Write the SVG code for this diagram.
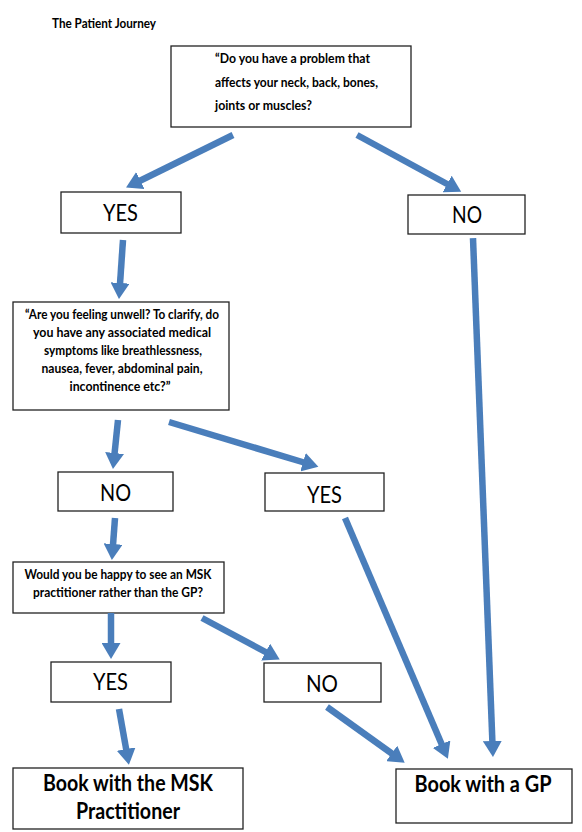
<svg xmlns="http://www.w3.org/2000/svg" width="582" height="832" viewBox="0 0 582 832">
<style>
.box{fill:#fff;stroke:#222;stroke-width:1.3}
.t{font-family:Lato,"Liberation Sans",sans-serif;fill:#000}
.b{font-weight:bold;font-size:12.5px}
.lbl{font-size:23px;font-weight:normal}
.big{font-weight:bold;font-size:22px}
.c{text-anchor:middle}
.arr{stroke:#4a7ebb;stroke-width:6.5;fill:none;marker-end:url(#ah)}
</style>
<defs>
<marker id="ah" markerUnits="userSpaceOnUse" markerWidth="17" markerHeight="19" refX="1" refY="9.5" orient="auto">
<path d="M0,0 L16,9.5 L0,19 z" fill="#4a7ebb"/>
</marker>
</defs>
<rect width="582" height="832" fill="#fff"/>
<text class="t b" x="52" y="28" textLength="104" lengthAdjust="spacingAndGlyphs">The Patient Journey</text>

<g id="q1">
<rect class="box" x="171" y="46" width="240" height="81"/>
<text class="t b" x="215" y="63" textLength="155" lengthAdjust="spacingAndGlyphs">“Do you have a problem that</text>
<text class="t b" x="215" y="87" textLength="163" lengthAdjust="spacingAndGlyphs">affects your neck, back, bones,</text>
<text class="t b" x="215" y="110" textLength="97" lengthAdjust="spacingAndGlyphs">joints or muscles?</text>
</g>
<g id="yes1">
<rect class="box" x="61" y="192" width="120" height="41"/>
<text class="t lbl" x="103" y="221" textLength="35" lengthAdjust="spacingAndGlyphs">YES</text>
</g>
<g id="no1">
<rect class="box" x="408" y="195" width="117" height="39"/>
<text class="t lbl" x="452" y="223" textLength="30" lengthAdjust="spacingAndGlyphs">NO</text>
</g>
<g id="q2">
<rect class="box" x="13" y="302" width="216" height="108"/>
<text class="t b c" x="122" y="319" textLength="194" lengthAdjust="spacingAndGlyphs">“Are you feeling unwell? To clarify, do</text>
<text class="t b c" x="122" y="337" textLength="178" lengthAdjust="spacingAndGlyphs">you have any associated medical</text>
<text class="t b c" x="123" y="355" textLength="158" lengthAdjust="spacingAndGlyphs">symptoms like breathlessness,</text>
<text class="t b c" x="122" y="373" textLength="161" lengthAdjust="spacingAndGlyphs">nausea, fever, abdominal pain,</text>
<text class="t b c" x="120" y="391" textLength="101" lengthAdjust="spacingAndGlyphs">incontinence etc?”</text>
</g>
<g id="no2">
<rect class="box" x="58" y="472" width="115" height="39"/>
<text class="t lbl" x="100" y="501" textLength="31" lengthAdjust="spacingAndGlyphs">NO</text>
</g>
<g id="yes2">
<rect class="box" x="265" y="473" width="119" height="38"/>
<text class="t lbl" x="307" y="503" textLength="35" lengthAdjust="spacingAndGlyphs">YES</text>
</g>
<g id="q3">
<rect class="box" x="13" y="562" width="211" height="51"/>
<text class="t b c" x="118" y="579" textLength="187" lengthAdjust="spacingAndGlyphs">Would you be happy to see an MSK</text>
<text class="t b c" x="118" y="597" textLength="170" lengthAdjust="spacingAndGlyphs">practitioner rather than the GP?</text>
</g>
<g id="yes3">
<rect class="box" x="51" y="662" width="120" height="40"/>
<text class="t lbl" x="93" y="690" textLength="35" lengthAdjust="spacingAndGlyphs">YES</text>
</g>
<g id="no3">
<rect class="box" x="264" y="663" width="117" height="39"/>
<text class="t lbl" x="306" y="692" textLength="32" lengthAdjust="spacingAndGlyphs">NO</text>
</g>
<g id="msk">
<rect class="box" x="13" y="768" width="230" height="61"/>
<text class="t big c" x="128" y="791" textLength="170" lengthAdjust="spacingAndGlyphs">Book with the MSK</text>
<text class="t big c" x="128" y="819" textLength="104" lengthAdjust="spacingAndGlyphs">Practitioner</text>
</g>
<g id="gp">
<rect class="box" x="396" y="769" width="176" height="54"/>
<text class="t big c" x="483" y="792" textLength="137" lengthAdjust="spacingAndGlyphs">Book with a GP</text>
</g>

<g id="connectors">
<line class="arr" x1="233" y1="135" x2="139.5" y2="181"/>
<line class="arr" x1="357" y1="135" x2="448" y2="184.5"/>
<line class="arr" x1="123" y1="240" x2="120" y2="284"/>
<line class="arr" x1="118" y1="420" x2="114.5" y2="454"/>
<line class="arr" x1="169" y1="422" x2="304" y2="462.5"/>
<line class="arr" x1="115" y1="518" x2="113" y2="545"/>
<line class="arr" x1="111" y1="613" x2="111" y2="644"/>
<line class="arr" x1="202" y1="618" x2="266.5" y2="652.5"/>
<line class="arr" x1="119" y1="709" x2="126.3" y2="750"/>
<line class="arr" x1="327" y1="707" x2="392.5" y2="754"/>
<line class="arr" x1="345" y1="518" x2="442" y2="745"/>
<line class="arr" x1="473" y1="238" x2="492.4" y2="742"/>
</g>
</svg>
